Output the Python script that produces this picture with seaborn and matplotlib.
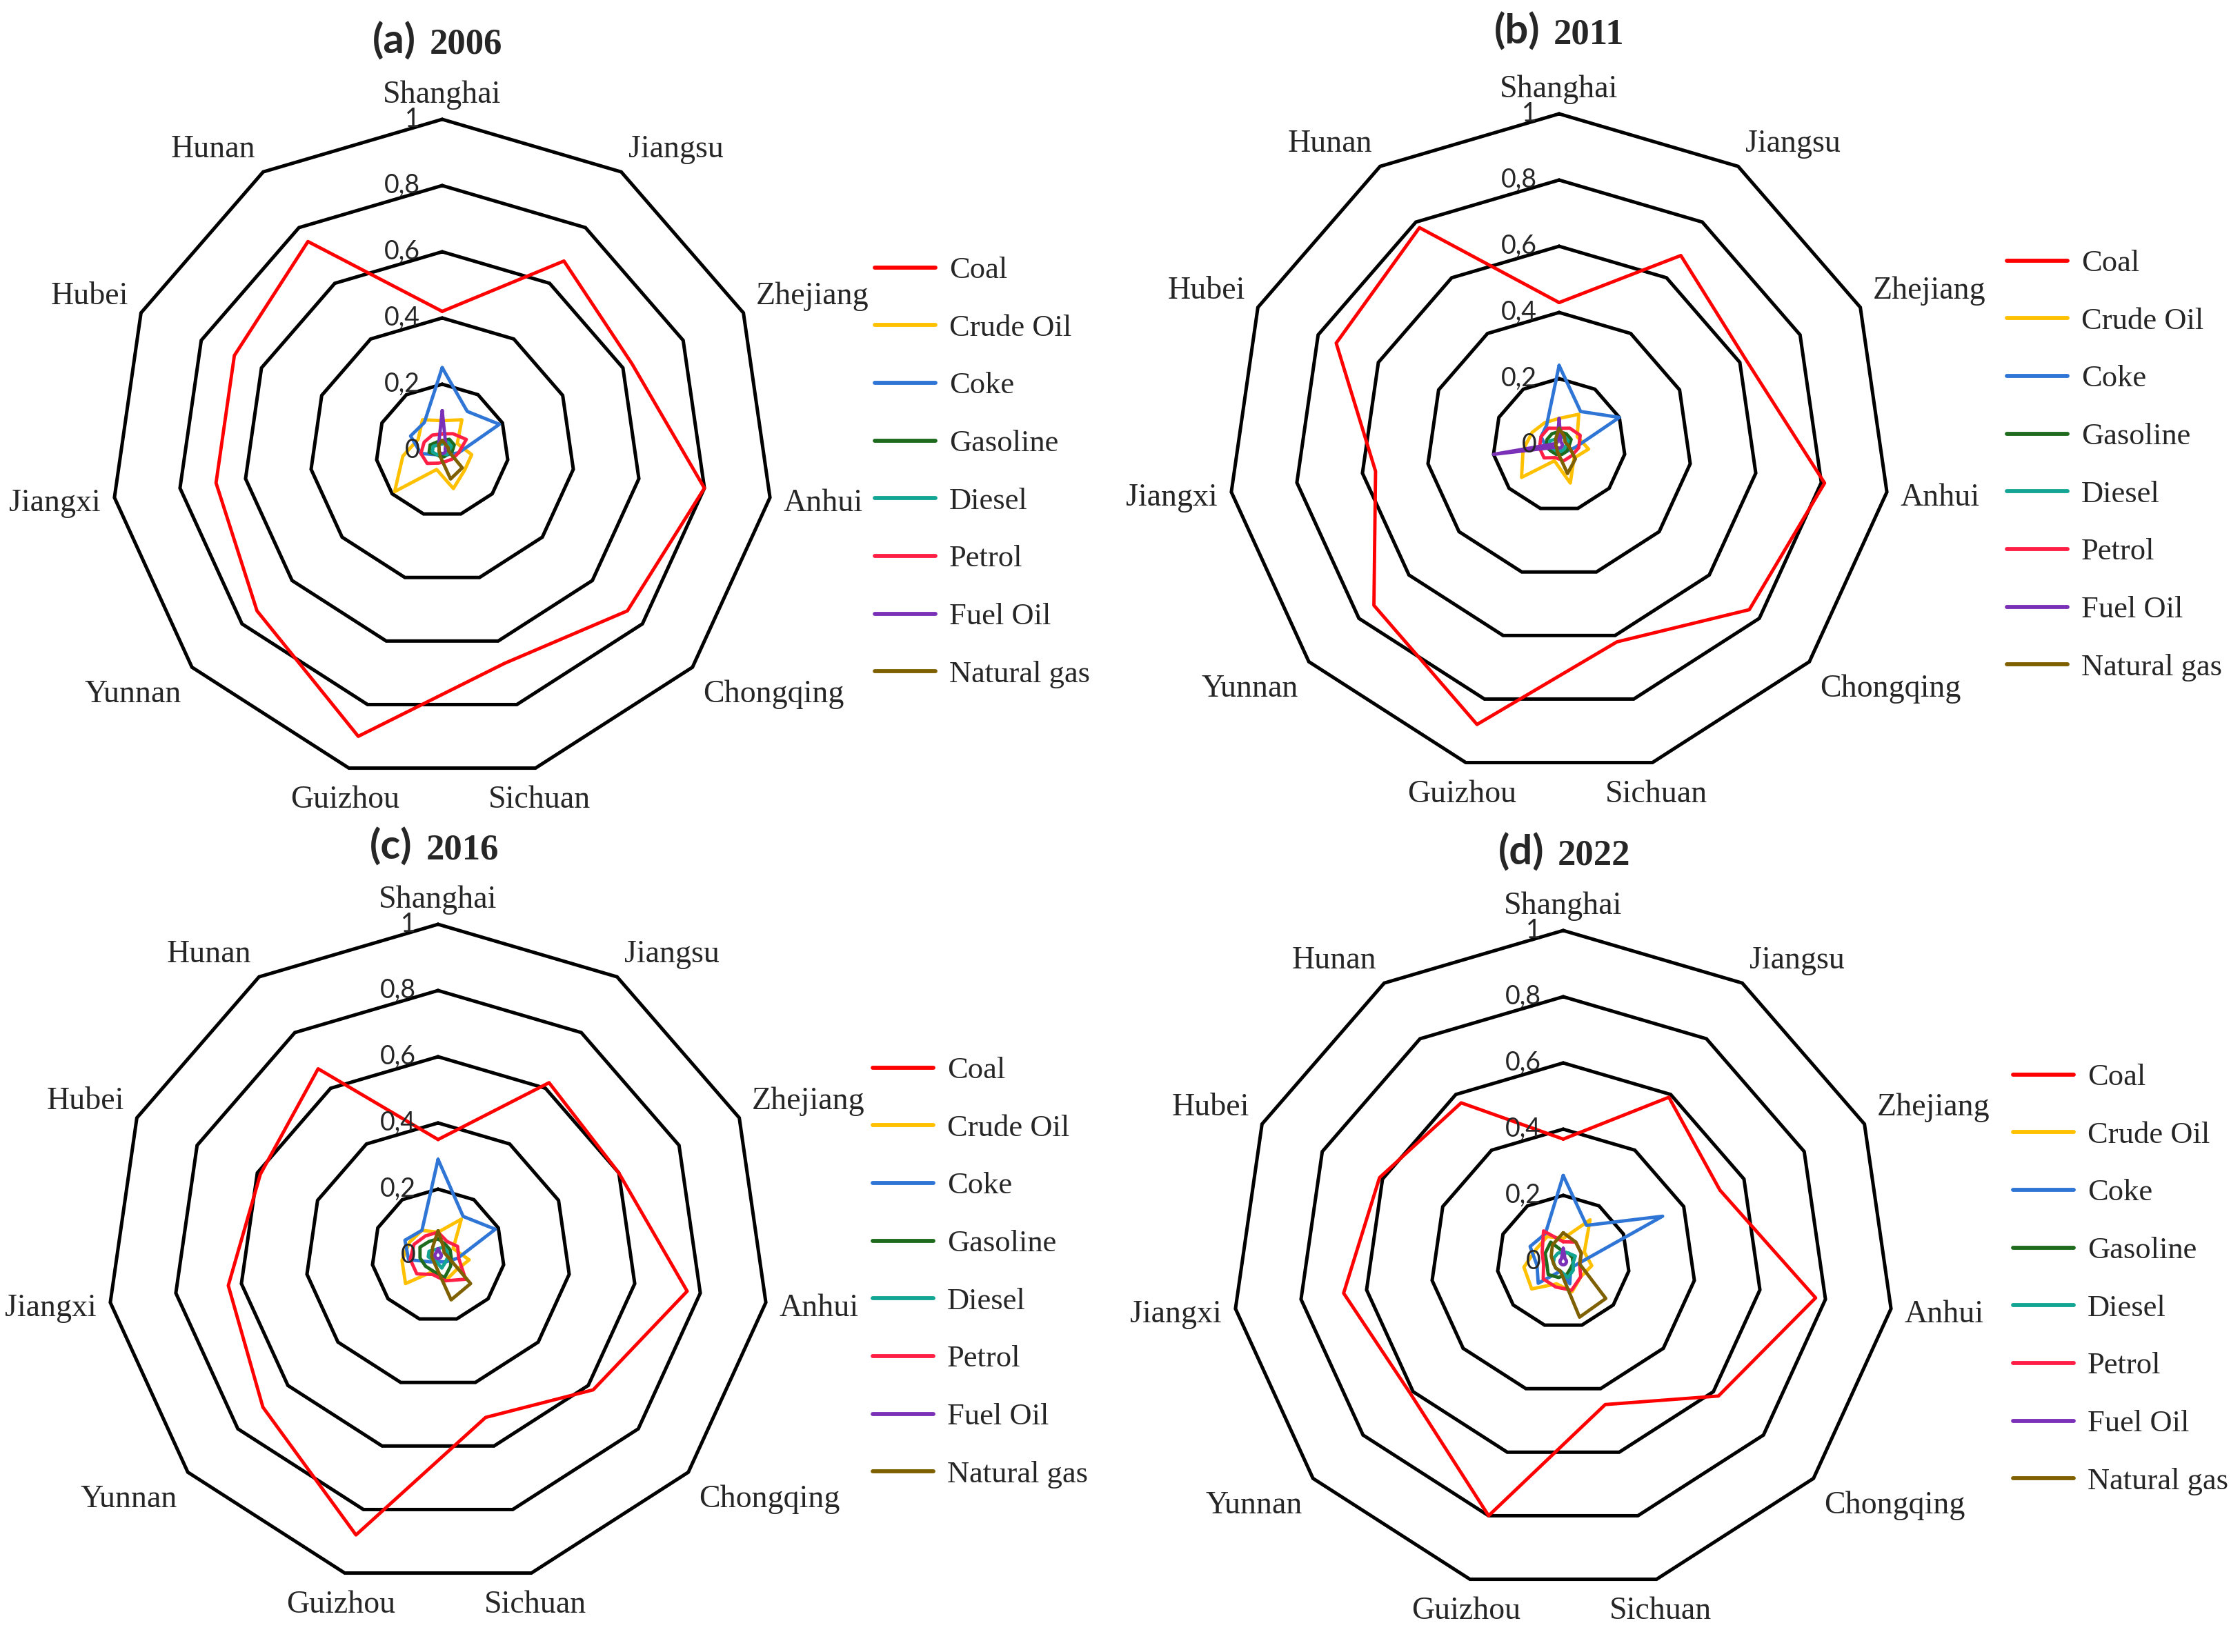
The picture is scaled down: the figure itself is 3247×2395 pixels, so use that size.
import numpy as np
import pandas as pd
import matplotlib
matplotlib.use("Agg")
import matplotlib.pyplot as plt
import seaborn as sns
from matplotlib.lines import Line2D

# ---------------- data ----------------
provinces = ["Shanghai", "Jiangsu", "Zhejiang", "Anhui", "Chongqing", "Sichuan",
             "Guizhou", "Yunnan", "Jiangxi", "Hubei", "Hunan"]
energies = ["Coal", "Crude Oil", "Coke", "Gasoline", "Diesel", "Petrol", "Fuel Oil", "Natural gas"]
years = ["2006", "2011", "2016", "2022"]
tags = ["(a)", "(b)", "(c)", "(d)"]
ring_levels = [0.2, 0.4, 0.6, 0.8, 1.0]
tick_values = [0.0, 0.2, 0.4, 0.6, 0.8, 1.0]
tick_labels = ["0", "0,2", "0,4", "0,6", "0,8", "1"]

coal_2006 = [0.42, 0.68, 0.63, 0.80, 0.74, 0.67, 0.90, 0.74, 0.69, 0.69, 0.75]
crude_2006 = [0.09, 0.11, 0.05, 0.09, 0.09, 0.12, 0.06, 0.19, 0.12, 0.08, 0.11]
coke_2006 = [0.25, 0.14, 0.19, 0.05, 0.02, 0.01, 0.01, 0.02, 0.065, 0.105, 0.10]
gasoline_2006 = [0.03, 0.04, 0.04, 0.03, 0.02, 0.02, 0.02, 0.02, 0.04, 0.04, 0.03]
diesel_2006 = [0.02, 0.03, 0.03, 0.02, 0.02, 0.01, 0.01, 0.02, 0.03, 0.03, 0.02]
petrol_2006 = [0.05, 0.06, 0.08, 0.05, 0.04, 0.035, 0.04, 0.06, 0.065, 0.06, 0.055]
fuel_2006 = [0.12, 0.02, 0.01, 0.01, 0.01, 0.01, 0.01, 0.01, 0.01, 0.01, 0.02]
natgas_2006 = [0.03, 0.02, 0.02, 0.02, 0.08, 0.09, 0.02, 0.01, 0.01, 0.01, 0.02]

coal_2011 = [0.43, 0.68, 0.62, 0.81, 0.76, 0.62, 0.88, 0.74, 0.56, 0.74, 0.78]
crude_2011 = [0.08, 0.11, 0.06, 0.09, 0.06, 0.12, 0.05, 0.15, 0.11, 0.09, 0.08]
coke_2011 = [0.24, 0.12, 0.20, 0.05, 0.03, 0.02, 0.02, 0.03, 0.04, 0.06, 0.07]
gasoline_2011 = [0.04, 0.04, 0.04, 0.03, 0.03, 0.03, 0.03, 0.03, 0.04, 0.04, 0.04]
diesel_2011 = [0.02, 0.03, 0.03, 0.02, 0.02, 0.02, 0.02, 0.02, 0.03, 0.03, 0.02]
petrol_2011 = [0.05, 0.06, 0.07, 0.06, 0.05, 0.05, 0.04, 0.06, 0.06, 0.06, 0.06]
fuel_2011 = [0.08, 0.01, 0.01, 0.01, 0.01, 0.01, 0.01, 0.01, 0.20, 0.01, 0.01]
natgas_2011 = [0.05, 0.03, 0.02, 0.03, 0.065, 0.09, 0.02, 0.01, 0.01, 0.01, 0.02]

coal_2016 = [0.35, 0.62, 0.60, 0.76, 0.62, 0.51, 0.88, 0.70, 0.64, 0.59, 0.67]
crude_2016 = [0.07, 0.13, 0.05, 0.095, 0.07, 0.08, 0.05, 0.13, 0.11, 0.095, 0.09]
coke_2016 = [0.29, 0.14, 0.19, 0.06, 0.03, 0.02, 0.02, 0.03, 0.09, 0.11, 0.09]
gasoline_2016 = [0.05, 0.04, 0.04, 0.04, 0.05, 0.07, 0.05, 0.05, 0.055, 0.06, 0.05]
diesel_2016 = [0.02, 0.03, 0.03, 0.03, 0.03, 0.04, 0.02, 0.02, 0.03, 0.03, 0.02]
petrol_2016 = [0.07, 0.05, 0.065, 0.063, 0.11, 0.08, 0.06, 0.085, 0.085, 0.08, 0.07]
fuel_2016 = [0.02, 0.01, 0.01, 0.01, 0.01, 0.01, 0.01, 0.01, 0.01, 0.01, 0.01]
natgas_2016 = [0.074, 0.03, 0.02, 0.03, 0.13, 0.14, 0.03, 0.02, 0.02, 0.02, 0.03]

coal_2022 = [0.37, 0.59, 0.52, 0.77, 0.62, 0.45, 0.80, 0.61, 0.67, 0.61, 0.57]
crude_2022 = [0.07, 0.15, 0.07, 0.087, 0.07, 0.095, 0.07, 0.126, 0.12, 0.09, 0.09]
coke_2022 = [0.26, 0.13, 0.33, 0.045, 0.03, 0.07, 0.03, 0.10, 0.08, 0.11, 0.10]
gasoline_2022 = [0.03, 0.03, 0.03, 0.03, 0.03, 0.04, 0.05, 0.06, 0.05, 0.06, 0.07]
diesel_2022 = [0.03, 0.03, 0.04, 0.03, 0.04, 0.05, 0.03, 0.03, 0.03, 0.03, 0.03]
petrol_2022 = [0.06, 0.07, 0.06, 0.05, 0.07, 0.09, 0.08, 0.08, 0.06, 0.07, 0.11]
fuel_2022 = [0.04, 0.01, 0.01, 0.01, 0.01, 0.01, 0.01, 0.01, 0.01, 0.01, 0.01]
natgas_2022 = [0.087, 0.07, 0.06, 0.05, 0.17, 0.175, 0.03, 0.03, 0.03, 0.04, 0.06]

series_by_year = {
    "2006": [coal_2006, crude_2006, coke_2006, gasoline_2006, diesel_2006, petrol_2006, fuel_2006, natgas_2006],
    "2011": [coal_2011, crude_2011, coke_2011, gasoline_2011, diesel_2011, petrol_2011, fuel_2011, natgas_2011],
    "2016": [coal_2016, crude_2016, coke_2016, gasoline_2016, diesel_2016, petrol_2016, fuel_2016, natgas_2016],
    "2022": [coal_2022, crude_2022, coke_2022, gasoline_2022, diesel_2022, petrol_2022, fuel_2022, natgas_2022],
}

palette = {"Coal": "#FF0000", "Crude Oil": "#FFC000", "Coke": "#2E75D6", "Gasoline": "#1E6B1E",
           "Diesel": "#12A594", "Petrol": "#FF1F45", "Fuel Oil": "#7B30B8", "Natural gas": "#7F6000"}

# ---------------- layout (pixels) ----------------
W, H, DPI = 3247, 2395, 100
R = 480
centers = [(641, 653), (2260, 645), (635, 1820), (2266, 1829)]
title_pos = [(603, 78), (2232, 64), (598, 1246), (2238, 1254)]
legend_pos = [(1268, 372), (2909, 362), (1265, 1532), (2918, 1542)]

sns.set_style("white")
plt.rcParams["font.family"] = ["Liberation Serif", "DejaVu Serif"]

fig = plt.figure(figsize=(W / DPI, H / DPI), dpi=DPI)

n = len(provinces)
theta = np.linspace(0, 2 * np.pi, n, endpoint=False)
theta_closed = np.append(theta, 2 * np.pi)

for i, year in enumerate(years):
    cx, cy = centers[i]
    ax = fig.add_axes([(cx - R) / W, 1 - (cy + R) / H, 2 * R / W, 2 * R / H], projection="polar")
    ax.set_theta_zero_location("N")
    ax.set_theta_direction(-1)

    rows = []
    for e, vals in zip(energies, series_by_year[year]):
        closed = list(vals) + [vals[0]]
        for k in range(n + 1):
            rows.append({"Energy": e, "step": k, "theta": theta_closed[k], "value": closed[k]})
    df = pd.DataFrame(rows)

    # polygonal grid rings
    for lv in ring_levels:
        ax.plot(theta_closed, [lv] * (n + 1), color="black", lw=3.6, clip_on=False, zorder=1,
                solid_joinstyle="miter")

    sns.lineplot(data=df, x="theta", y="value", hue="Energy", hue_order=energies,
                 palette=palette, sort=False, estimator=None, legend=False, ax=ax,
                 linewidth=3.5, zorder=3)

    ax.set_ylim(0, 1)
    ax.set_xticks([])
    ax.set_yticks([])
    ax.grid(False)
    ax.spines["polar"].set_visible(False)
    ax.set_xlabel("")
    ax.set_ylabel("")
    ax.patch.set_alpha(0)

    # radial tick labels
    for v, lab in zip(tick_values, tick_labels):
        ax.annotate(lab, xy=(0, v), xytext=(-23, -8), textcoords="offset points",
                    ha="right", va="baseline", fontsize=27, family=["Lato", "DejaVu Sans"],
                    annotation_clip=False)

    # category labels
    pad = 14.4
    for th, name in zip(theta, provinces):
        s, c = np.sin(th), np.cos(th)
        ha = "left" if s > 0.3 else ("right" if s < -0.3 else "center")
        va = "bottom" if c > 0.3 else ("top" if c < -0.3 else "center")
        ax.annotate(name, xy=(th, 1.0), xytext=(s * pad, c * pad - 4), textcoords="offset points",
                    ha=ha, va=va, fontsize=33, annotation_clip=False)

    # title
    tx, ty = title_pos[i]
    fig.text(tx / W, 1 - ty / H, tags[i], ha="right", va="baseline", fontsize=43,
             fontweight="bold", family=["Lato", "DejaVu Sans"])
    fig.text((tx + 20) / W, 1 - ty / H, year, ha="left", va="baseline", fontsize=38,
             fontweight="bold", family=["Liberation Serif", "DejaVu Serif"])

    # legend
    lx, ly = legend_pos[i]
    handles = [Line2D([0], [0], color=palette[e], lw=4.2) for e in energies]
    fig.legend(handles, energies, loc="upper left", bbox_to_anchor=(lx / W, 1 - ly / H),
               bbox_transform=fig.transFigure, frameon=False,
               prop={"family": "Liberation Serif", "size": 32},
               handlelength=1.98, handletextpad=0.45, labelspacing=0.98,
               borderpad=0, borderaxespad=0)

fig.savefig("out.png", dpi=DPI)
